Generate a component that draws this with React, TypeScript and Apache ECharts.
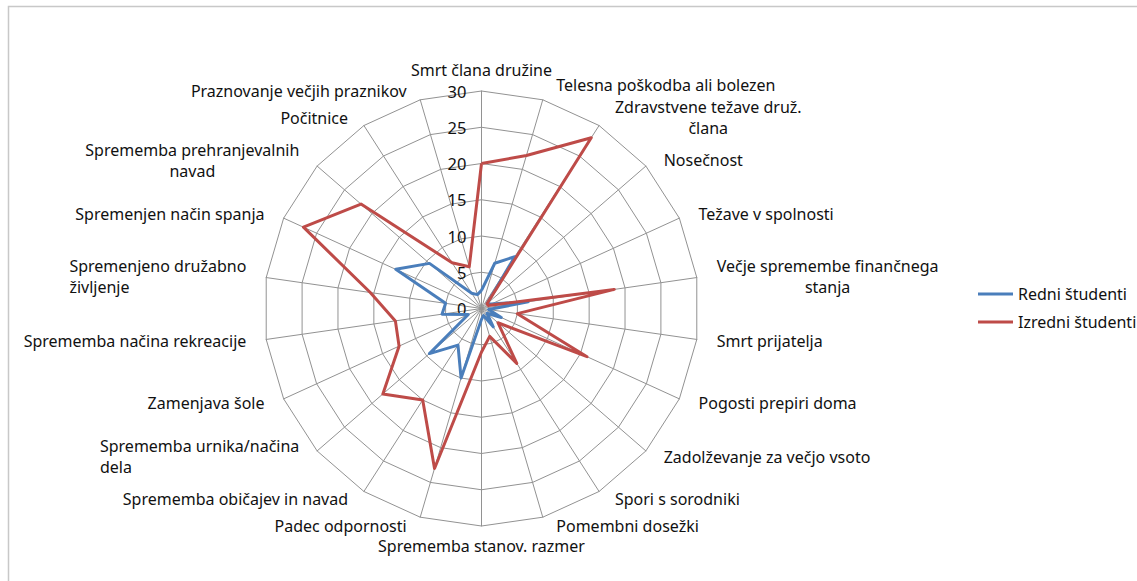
import React, { useEffect, useRef } from 'react';
import * as echarts from 'echarts';

const categories = [
  'Smrt člana družine',
  'Telesna poškodba ali bolezen',
  'Zdravstvene težave druž.\nčlana',
  'Nosečnost',
  'Težave v spolnosti',
  'Večje spremembe finančnega\nstanja',
  'Smrt prijatelja',
  'Pogosti prepiri doma',
  'Zadolževanje za večjo vsoto',
  'Spori s sorodniki',
  'Pomembni dosežki',
  'Sprememba stanov. razmer',
  'Padec odpornosti',
  'Sprememba običajev in navad',
  'Sprememba urnika/načina\ndela',
  'Zamenjava šole',
  'Sprememba načina rekreacije',
  'Spremenjeno družabno\nživljenje',
  'Spremenjen način spanja',
  'Sprememba prehranjevalnih\nnavad',
  'Počitnice',
  'Praznovanje večjih praznikov',
];

const seriesNames = ['Redni študenti', 'Izredni študenti'];
const redniValues = [2.5, 6.5, 8.5, 1, 1.5, 6.5, 1, 3, 1, 3, 1, 1.5, 10, 6, 9.5, 2, 5.5, 5, 13, 9.5, 2.5, 2];
const izredniValues = [20, 22, 28, 1, 1, 18.5, 5, 16, 3, 9, 4, 6, 23, 15, 18, 12.5, 12, 15.5, 27, 22, 7.5, 6];
const axisMax = 30;
const axisStep = 5;

// label styling keys (alignment / small nudges to keep neighbouring labels apart)
const labelStyleKeys: Record<string, string[]> = {
  'Smrt člana družine': ['top'],
  'Telesna poškodba ali bolezen': ['lift'],
  'Sprememba urnika/načina\ndela': ['l', 'l'],
  'Spremenjeno družabno\nživljenje': ['l', 'l'],
};

// ECharts lays radar indicators counter-clockwise; reorder to get clockwise like the source
const cw = <T,>(arr: T[]): T[] => [arr[0], ...arr.slice(1).reverse()];

const FONT = 'Noto Sans';
const TEXT = '#111111';
const FS = 16;

export default function App() {
  const ref = useRef<HTMLDivElement>(null);
  useEffect(() => {
    document.body.style.margin = '0';
    if (!ref.current) return;
    const chart = echarts.init(ref.current, undefined, { renderer: 'svg' });
    const tokenStyle = { fontSize: FS, fontFamily: FONT, color: TEXT, lineHeight: 21 };
    const option = {
      animation: false,
      color: ['#4A7EBB', '#BE4B48'],
      graphic: [
        {
          type: 'rect',
          shape: { x: 8.5, y: 6.5, width: 1200, height: 700 },
          style: { fill: 'none', stroke: '#c8c8c8', lineWidth: 1.5 },
          silent: true,
        },
      ],
      legend: {
        orient: 'vertical',
        left: 973,
        top: 281,
        itemWidth: 35,
        itemHeight: 3,
        itemGap: 12,
        icon: 'rect',
        textStyle: { fontSize: FS, color: TEXT, fontFamily: FONT },
        data: seriesNames,
      },
      radar: {
        center: [481.5, 308.5],
        radius: 217.5,
        startAngle: 90,
        splitNumber: axisMax / axisStep,
        shape: 'polygon',
        nameGap: 9,
        indicator: cw(categories).map((name) => ({ name, min: 0, max: axisMax })),
        axisName: {
          color: TEXT,
          fontSize: FS,
          fontFamily: FONT,
          formatter: (name: string) => {
            const keys = labelStyleKeys[name] || [];
            return name
              .split('\n')
              .map((l, i) => `{${keys[i] || 'c'}|${l}}`)
              .join('\n');
          },
          rich: {
            c: { ...tokenStyle, align: 'center', padding: [0, 11] },
            l: { ...tokenStyle, align: 'left', padding: [0, 11] },
            top: { ...tokenStyle, align: 'center', padding: [0, 11, 4, 11] },
            lift: { ...tokenStyle, align: 'center', padding: [0, 11, 12, 11] },
          },
        },
        axisLine: { lineStyle: { color: '#929292', width: 1 } },
        splitLine: { lineStyle: { color: '#929292', width: 1 } },
        splitArea: { show: false },
        axisTick: { show: false },
        axisLabel: { show: false },
      },
      polar: { center: [481.5, 308.5], radius: 217.5 },
      angleAxis: { type: 'value', startAngle: 90, min: 0, max: 360, show: false },
      radiusAxis: {
        type: 'value',
        min: 0,
        max: axisMax,
        interval: axisStep,
        axisLine: { show: false },
        axisTick: { show: false },
        splitLine: { show: false },
        axisLabel: { margin: 15, fontSize: 16.5, color: TEXT, fontFamily: FONT },
      },
      series: [
        {
          type: 'radar',
          symbol: 'none',
          data: [
            { name: seriesNames[0], value: cw(redniValues), lineStyle: { width: 3, color: '#4A7EBB' } },
            { name: seriesNames[1], value: cw(izredniValues), lineStyle: { width: 3, color: '#BE4B48' } },
          ],
        },
      ],
    };
    chart.setOption(option as any);
    return () => chart.dispose();
  }, []);
  return <div ref={ref} style={{ width: 1137, height: 581 }} />;
}
